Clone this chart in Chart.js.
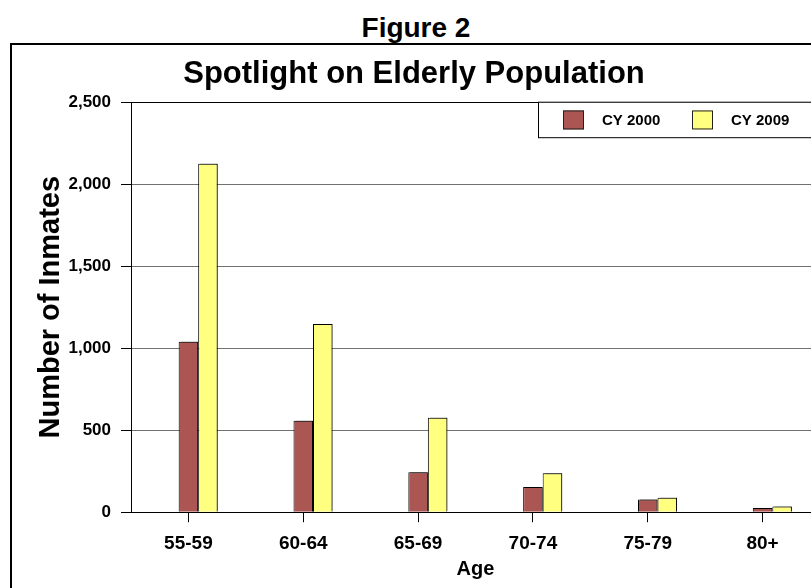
<!DOCTYPE html>
<html>
<head>
<meta charset="utf-8">
<script src="https://cdn.jsdelivr.net/npm/chart.js@4/dist/chart.umd.min.js"></script>
<style>
  html, body { margin: 0; padding: 0; background: #fff; }
  body { width: 811px; height: 588px; overflow: hidden; position: relative; }
  #figure-label {
    position: absolute; left: 0; top: 14px; width: 832px;
    text-align: center; font: bold 28px/28px 'Liberation Sans', Arial, sans-serif; color: #000;
  }
  #frame {
    position: absolute; left: 10px; top: 43px; width: 900px; height: 700px;
    border-left: 2px solid #000; border-top: 2px solid #000;
  }
  #chart { position: absolute; left: 0; top: 0; }
</style>
</head>
<body>
<div id="figure-label">Figure 2</div>
<div id="frame"></div>
<canvas id="chart" width="830" height="588"></canvas>
<script>
// Age groups and inmate counts per calendar year
const ageGroups = ['55-59', '60-64', '65-69', '70-74', '75-79', '80+'];
const cy2000 = [1040, 557, 244, 153, 78, 26];
const cy2009 = [2125, 1148, 576, 238, 88, 35];
// empty leading slot so each pair sits just right of the category tick
const gapSlot = [null, null, null, null, null, null];
// value axis tick labels
const yTicks = [0, 500, 1000, 1500, 2000, 2500];

const FONT = "'Liberation Sans', Arial, sans-serif";
Chart.defaults.color = '#000';
Chart.defaults.font.family = FONT;

// thin grey drop shadow on the bars
const barShadow = {
  id: 'barShadow',
  beforeDatasetDraw(chart) {
    const c = chart.ctx;
    c.save();
    c.shadowColor = 'rgba(0,0,0,0.45)';
    c.shadowOffsetX = 2;
    c.shadowOffsetY = -1;
    c.shadowBlur = 0;
  },
  afterDatasetDraw(chart) { chart.ctx.restore(); }
};

// boxed legend in the top-right corner of the plot
const boxLegend = {
  id: 'boxLegend',
  afterDraw(chart) {
    const c = chart.ctx, a = chart.chartArea;
    const left = 538, top = a.top, right = a.right, bottom = a.top + 35.5;
    c.save();
    c.fillStyle = '#fff';
    c.fillRect(left, top, right - left, bottom - top);
    c.strokeStyle = '#000';
    c.lineWidth = 1;
    c.strokeRect(left + 0.5, top, right - left, bottom - top);
    const items = chart.data.datasets.filter(d => d.label);
    c.font = 'bold 15px ' + FONT;
    c.textBaseline = 'middle';
    c.textAlign = 'left';
    const mid = (top + bottom) / 2;
    items.forEach((d, i) => {
      const x0 = left + 25 + i * 129;
      c.fillStyle = d.backgroundColor;
      c.fillRect(x0, mid - 9.5, 21, 19);
      c.strokeStyle = '#222';
      c.strokeRect(x0 + 0.5, mid - 9.5 + 0.5, 20, 18);
      c.fillStyle = '#000';
      c.fillText(d.label, x0 + 39, mid + 1);
    });
    c.restore();
  }
};

new Chart(document.getElementById('chart'), {
  type: 'bar',
  data: {
    labels: ageGroups,
    datasets: [
      { label: '', data: gapSlot, backgroundColor: 'rgba(0,0,0,0)', borderWidth: 0 },
      { label: 'CY 2000', data: cy2000, backgroundColor: '#AC5654', borderColor: '#000', borderWidth: 1 },
      { label: 'CY 2009', data: cy2009, backgroundColor: '#FFFF80', borderColor: '#000', borderWidth: 1 }
    ]
  },
  options: {
    responsive: false,
    animation: false,
    devicePixelRatio: 1,
    categoryPercentage: 0.51,
    barPercentage: 1,
    layout: { padding: { left: 8, right: 10, top: 0, bottom: 0 } },
    plugins: {
      legend: { display: false },
      tooltip: { enabled: false },
      title: {
        display: true,
        text: 'Spotlight on Elderly Population',
        font: { size: 31, weight: 'bold', lineHeight: 1.2 },
        color: '#000',
        padding: { top: 56, bottom: 9 }
      }
    },
    scales: {
      x: {
        offset: true,
        grid: { drawOnChartArea: false, drawTicks: true, tickLength: 10, offset: false, tickColor: '#000' },
        border: { color: '#000', width: 1 },
        ticks: { font: { size: 19, weight: 'bold' }, padding: 10, maxRotation: 0, autoSkip: false },
        title: {
          display: true, text: 'Age',
          font: { size: 20, weight: 'bold', lineHeight: 1.2 },
          padding: { top: -8, bottom: 7 }
        }
      },
      y: {
        min: 0, max: 2500,
        afterBuildTicks(scale) { scale.ticks = yTicks.map(v => ({ value: v })); },
        afterFit(scale) { scale.width = 123; },
        grid: {
          color: ctx => (ctx.tick && ctx.tick.value === 2500) ? '#000' : '#707070',
          lineWidth: 1,
          tickLength: 10,
          tickColor: '#000'
        },
        border: { color: '#000', width: 1 },
        ticks: {
          font: { size: 17, weight: 'bold' },
          padding: 10,
          callback: v => Number(v).toLocaleString('en-US')
        },
        title: {
          display: true, text: 'Number of Inmates',
          font: { size: 29, weight: 'bold', lineHeight: 1.2 },
          padding: { top: 26, bottom: 0 }
        }
      }
    }
  },
  plugins: [barShadow, boxLegend]
});
</script>
</body>
</html>
